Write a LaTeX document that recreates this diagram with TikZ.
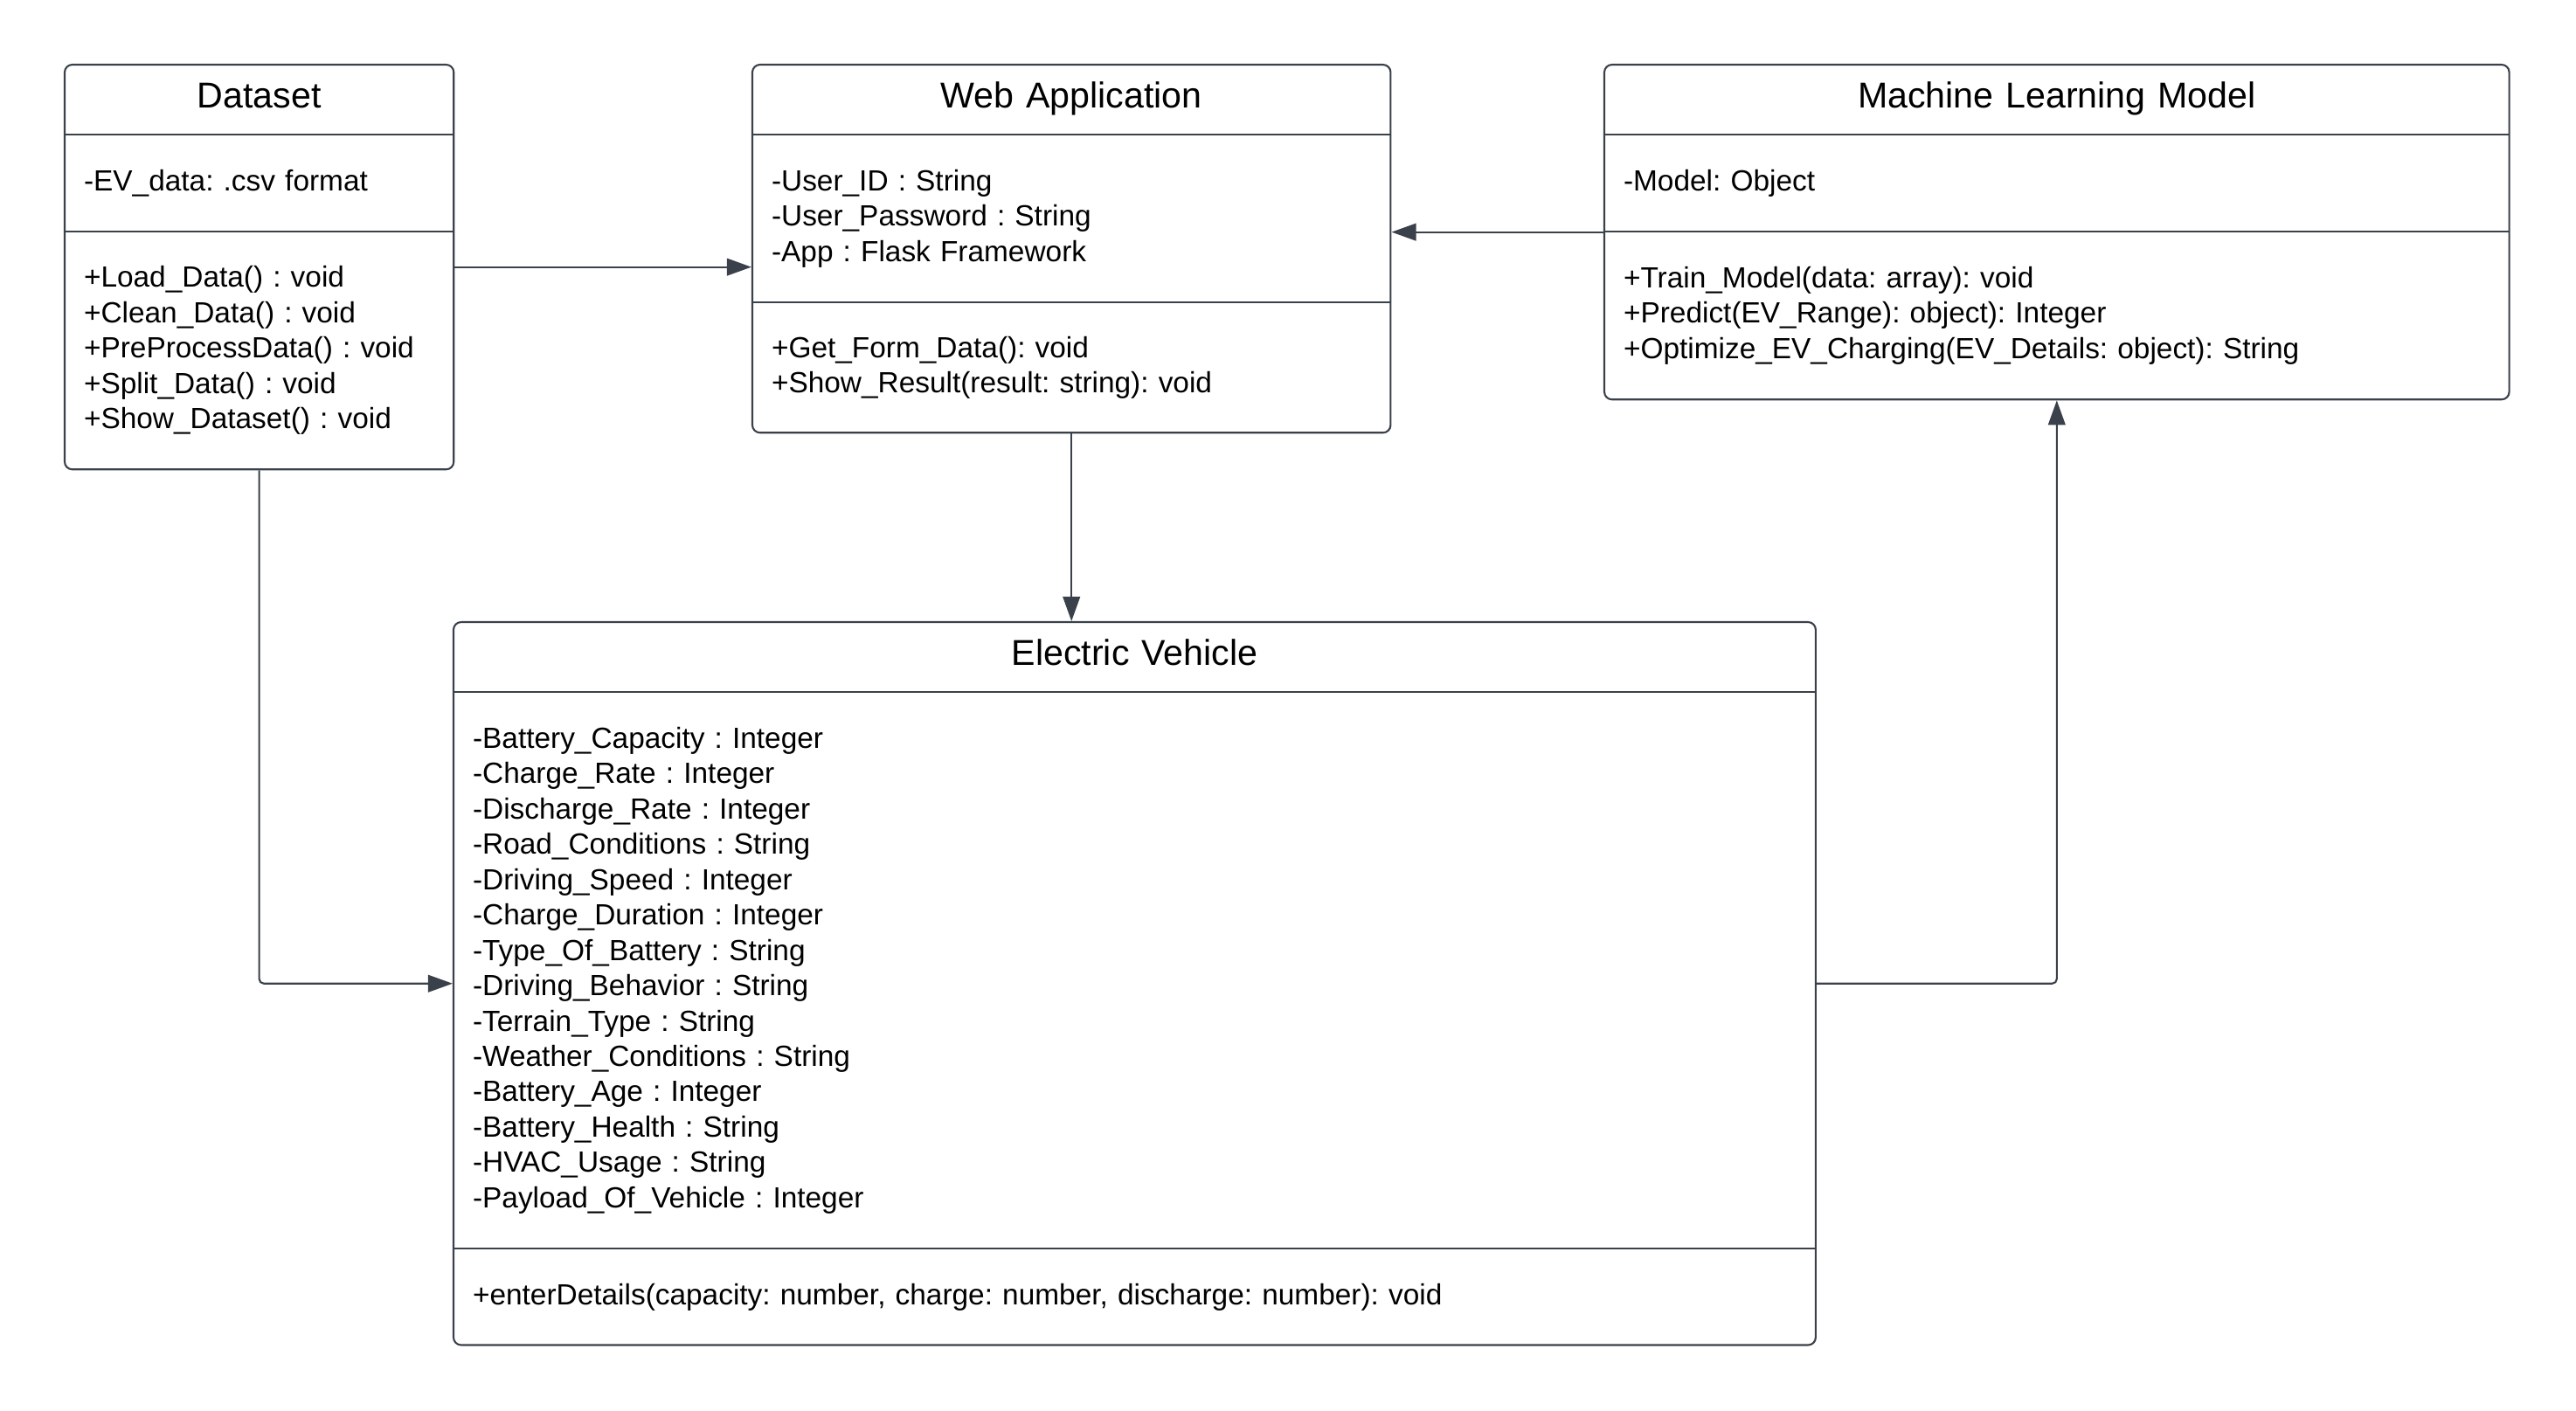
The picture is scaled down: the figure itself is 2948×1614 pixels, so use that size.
\documentclass[tikz,border=0pt]{standalone}
\usepackage{fontspec}
\setmainfont{Liberation Sans}
\usetikzlibrary{arrows.meta,positioning,fit}
\definecolor{umlline}{HTML}{3A414A}
\frenchspacing

\begin{document}
\begin{tikzpicture}[x=0.01cm,y=-0.01cm,
    part/.style={inner xsep=0.22cm,inner ysep=0pt,outer sep=0pt,align=left,font=\fontsize{9.5}{11.5}\selectfont},
    head/.style={part,align=center,minimum height=0.8cm,text height=8.4pt,text depth=2.9pt,font=\fontsize{11.7}{14}\selectfont},
    frame/.style={draw=umlline,line width=0.6pt,rounded corners=2.5pt,inner sep=0pt},
    sep/.style={draw=umlline,line width=0.6pt},
    link/.style={draw=umlline,line width=0.6pt,rounded corners=1.5pt,-{Triangle[length=8pt,width=5.6pt]}}]
    \useasboundingbox (0,0) rectangle (2948,1614);

    % Dataset
    \node[head,anchor=north west,text width=4.01cm] (dsname) at (74,74) {Dataset};
    \node[part,text width=4.01cm,minimum height=1.11cm,below=0pt of dsname] (dsattr) {-EV\_data: .csv format};
    \node[part,text width=4.01cm,minimum height=2.72cm,below=0pt of dsattr] (dsops) {+Load\_Data() : void\\+Clean\_Data() : void\\+PreProcessData() : void\\+Split\_Data() : void\\+Show\_Dataset() : void};
    \node[frame,fit=(dsname)(dsops)] (ds) {};
    \draw[sep] (dsname.south west) -- (dsname.south east);
    \draw[sep] (dsattr.south west) -- (dsattr.south east);

    % Web Application
    \node[head,anchor=north west,text width=6.86cm] (waname) at (861,74) {Web Application};
    \node[part,text width=6.86cm,minimum height=1.92cm,below=0pt of waname] (waattr) {-User\_ID : String\\-User\_Password : String\\-App : Flask Framework};
    \node[part,text width=6.86cm,minimum height=1.49cm,below=0pt of waattr] (waops) {+Get\_Form\_Data(): void\\+Show\_Result(result: string): void};
    \node[frame,fit=(waname)(waops)] (wa) {};
    \draw[sep] (waname.south west) -- (waname.south east);
    \draw[sep] (waattr.south west) -- (waattr.south east);

    % Machine Learning Model
    \node[head,anchor=north west,text width=9.91cm] (mlname) at (1836,74) {Machine Learning Model};
    \node[part,text width=9.91cm,minimum height=1.11cm,below=0pt of mlname] (mlattr) {-Model: Object};
    \node[part,text width=9.91cm,minimum height=1.92cm,below=0pt of mlattr] (mlops) {+Train\_Model(data: array): void\\+Predict(EV\_Range): object): Integer\\+Optimize\_EV\_Charging(EV\_Details: object): String};
    \node[frame,fit=(mlname)(mlops)] (ml) {};
    \draw[sep] (mlname.south west) -- (mlname.south east);
    \draw[sep] (mlattr.south west) -- (mlattr.south east);

    % Electric Vehicle
    \node[head,anchor=north west,text width=15.14cm] (evname) at (519,712) {Electric Vehicle};
    \node[part,text width=15.14cm,minimum height=6.37cm,below=0pt of evname] (evattr) {-Battery\_Capacity : Integer\\-Charge\_Rate : Integer\\-Discharge\_Rate : Integer\\-Road\_Conditions : String\\-Driving\_Speed : Integer\\-Charge\_Duration : Integer\\-Type\_Of\_Battery : String\\-Driving\_Behavior : String\\-Terrain\_Type : String\\-Weather\_Conditions : String\\-Battery\_Age : Integer\\-Battery\_Health : String\\-HVAC\_Usage : String\\-Payload\_Of\_Vehicle : Integer};
    \node[part,text width=15.14cm,minimum height=1.10cm,below=0pt of evattr] (evops) {+enterDetails(capacity: number, charge: number, discharge: number): void};
    \node[frame,fit=(evname)(evops)] (ev) {};
    \draw[sep] (evname.south west) -- (evname.south east);
    \draw[sep] (evattr.south west) -- (evattr.south east);

    % links
    \draw[link] (ds.east) -- (ds.east -| wa.west);
    \draw[link] (ml.west) -- (ml.west -| wa.east);
    \draw[link] (wa.south) -- (wa.south |- ev.north);
    \draw[link] (ds.south) |- (ev.west);
    \draw[link] (ev.east) -| (ml.south);
\end{tikzpicture}
\end{document}
